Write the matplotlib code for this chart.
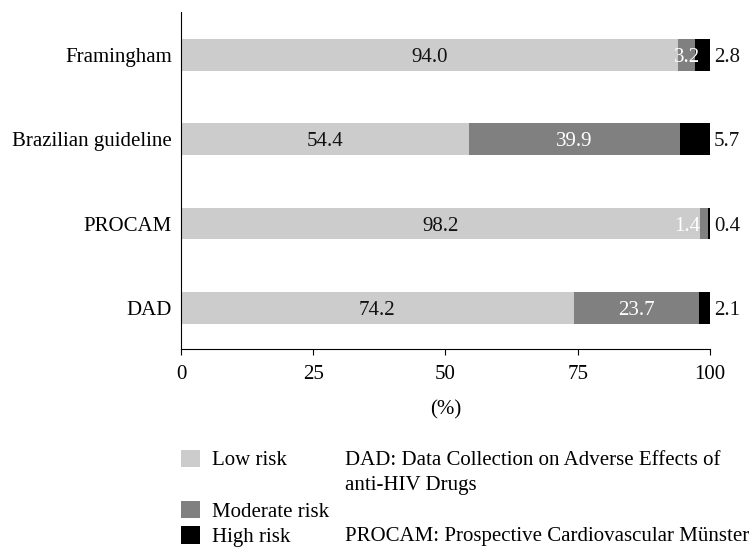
import numpy as np
import matplotlib.pyplot as plt
from matplotlib.patches import Patch

plt.rcParams['font.family'] = ['Liberation Serif', 'DejaVu Serif']
plt.rcParams['font.size'] = 15

scores = ["Framingham", "Brazilian guideline", "PROCAM", "DAD"]
low = [94.0, 54.4, 98.2, 74.2]
moderate = [3.2, 39.9, 1.4, 23.7]
high = [2.8, 5.7, 0.4, 2.1]
risk_names = ["Low risk", "Moderate risk", "High risk"]
colors = ["#cccccc", "#808080", "#000000"]
x_ticks = [0, 25, 50, 75, 100]
dad_note = ["DAD: Data Collection on Adverse Effects of", "anti-HIV Drugs"]
procam_note = "PROCAM: Prospective Cardiovascular Münster"

W, H = 755, 548
fig = plt.figure(figsize=(W / 100, H / 100), dpi=100)
ax = fig.add_axes([181 / W, 1 - 349 / H, (710 - 181) / W, (349 - 12) / H])

y = np.arange(len(scores))
left = np.zeros(len(scores))
bars = []
for vals, name, c in zip([low, moderate, high], risk_names, colors):
    b = ax.barh(y, vals, left=left, height=0.375, color=c, label=name)
    bars.append(b)
    left += np.array(vals)

low_txt = ax.bar_label(bars[0], fmt='%.1f', label_type='center', color='#111111')
mod_txt = ax.bar_label(bars[1], fmt='%.1f', label_type='center', color='white')
high_txt = ax.bar_label(bars[2], labels=[f'{v:.1f}' for v in high],
                        label_type='edge', padding=3, color='#111111')
for t in low_txt + mod_txt + high_txt:
    t.set_va('center_baseline')

# very thin segment: keep its label from running into the outside one
for t, v in zip(mod_txt, moderate):
    if v < 2:
        t.set_ha('right')
        t.xyann = (-3, 0)

ax.set_yticks(y, scores)
ax.set_ylim(3.486, -0.507)
ax.set_xlim(0, 100)
ax.set_xticks(x_ticks)
ax.spines['top'].set_visible(False)
ax.spines['right'].set_visible(False)
for s in ['left', 'bottom']:
    ax.spines[s].set_linewidth(0.8)
ax.tick_params(axis='y', length=0, pad=6.5)
ax.tick_params(axis='x', length=4, width=0.8, pad=7.5)
ax.set_xlabel('(%)', labelpad=12)

blank = Patch(facecolor='none', edgecolor='none')
fig.legend([bars[0], blank, bars[1], bars[2]],
           [risk_names[0], ' ', risk_names[1], risk_names[2]],
           loc='upper left', bbox_to_anchor=(181 / W, 1 - 449.5 / H),
           frameon=False, borderpad=0, borderaxespad=0,
           handlelength=0.91, handleheight=0.91, handletextpad=0.6,
           labelspacing=0.225)

fig.text(345 / W, 1 - 465 / H, dad_note[0], va='baseline')
fig.text(345 / W, 1 - 490 / H, dad_note[1], va='baseline')
fig.text(345 / W, 1 - 541.5 / H, procam_note, va='baseline')

fig.savefig('out.png', dpi=100)
